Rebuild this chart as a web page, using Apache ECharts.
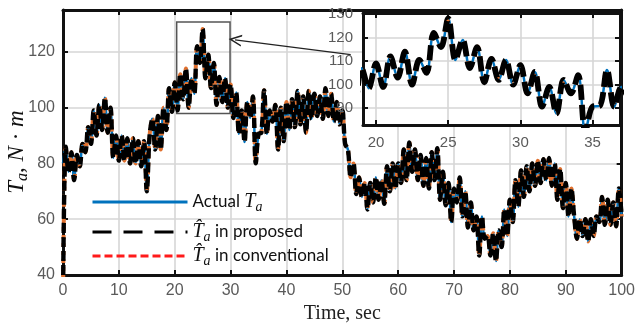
<!DOCTYPE html>
<html><head><meta charset="utf-8">
<script src="https://cdn.jsdelivr.net/npm/echarts@6/dist/echarts.min.js"></script>
<style>html,body{margin:0;padding:0;background:#fff}#c{width:638px;height:329px}</style>
</head><body><div id="c"></div>
<script>
const sampleStep = 0.5;
const actualTa = [
  80,86,77,84,74,83,79,87,84,93,87,99,90,101,92,103.5,91,100,82,90,
  81,90,81,89,80,89,80,88,79,88,70,90,96,85,97,85,100,92,107,98.5,
  109,99,112,103,114,100,110.5,105,122,116,128.2,110.5,119,107,116,101,111,102,110.5,100,
  108.3,96.3,105.4,90.6,99,87.7,102,96.3,104,80,90.6,91,106.2,90.6,99,95,101,85,100,88,
  102,92,103,93,106,94,104,91,106,96,105,97,104,96,107,97,105,95,102,94,
  99,87,85,75,80,69,75,68,73,63.5,73,66,75,67,74,65.5,79,70,80,71,
  80,73,85,74,87.5,77,85,74,83,72,82,71,84,74,85.5,67,77,65,73,59,
  71,66,75,61,70,57,66,56,61,47,61,53,54,47,55,45,56,50,63.5,54,
  67,59,74,64.5,77.5,68,79,70,80,72,81,73,81.5,74,82,72,80,67,78,64,
  73,61,71,61,53,60,54,60,52,60,54,61,59,68,58,67,58,66,57.5,71,61
];
const estimatorStart = 30;          // estimators start off-scale at t = 0
const mainX = [0, 100], mainY = [40, 135];
const insetX = [19.1, 36.9], insetY = [82.8, 130.5];
const zoomBoxX = [20.35, 29.9], zoomBoxY = [97.9, 130.7];
const arrowFrom = [51.5, 119], arrowTo = [30.8, 124.3];

const actualPairs = actualTa.map((v, i) => [i * sampleStep, v]);
const estPairs = actualTa.map((v, i) => [i * sampleStep, i === 0 ? estimatorStart : v]);

const C_BLUE = '#0072BD', C_ORANGE = '#E0702E', C_BLACK = '#000';
const labelColor = '#5a5a5a';
const serif = 'Liberation Serif';

function boxAxis(grid, pos, range, opts) {
  const isMain = grid === 0;
  return Object.assign({
    gridIndex: grid, type: 'value', position: pos,
    min: range[0], max: range[1],
    z: isMain ? 0 : 11,
    axisLine: { show: true, onZero: false, lineStyle: { color: '#111', width: 3 } },
    axisTick: { show: true, inside: true, length: 5, lineStyle: { color: '#111', width: 2 } },
    axisLabel: { show: false },
    splitLine: { show: false }
  }, opts);
}

const labelStyle = (fs, showMin, showMax) => ({ show: true, color: labelColor, fontFamily: 'Liberation Sans', fontSize: fs, showMinLabel: showMin, showMaxLabel: showMax });
const grid = { show: true, lineStyle: { color: '#d6d6d6', width: 1.6 } };

const richLegend = {
  it: { fontFamily: serif, fontStyle: 'italic', fontSize: 20, lineHeight: 24, color: '#111' },
  sub: { fontFamily: serif, fontStyle: 'italic', fontSize: 14, lineHeight: 10, verticalAlign: 'bottom', color: '#111' }
};
const legendText = { fontFamily: 'Lato', fontSize: 17, color: '#111', rich: richLegend };
const noMarker = { color: 'rgba(0,0,0,0)', borderColor: 'rgba(0,0,0,0)', borderWidth: 0 };

function lineSeries(name, data, xi, yi, color, width, dash, z, extra) {
  return Object.assign({
    name, type: 'line', data, xAxisIndex: xi, yAxisIndex: yi,
    symbol: 'none', smooth: 0.35, clip: true, z, silent: true,
    lineStyle: { color, width, type: dash },
    itemStyle: { color }
  }, extra || {});
}

const option = {
  animation: false,
  backgroundColor: '#fff',
  grid: [
    { left: 63, top: 10, right: 9, bottom: 52.5, show: false },
    { left: 363, top: 13, width: 257, height: 112, show: true, backgroundColor: '#fff', borderWidth: 0, z: 10 }
  ],
  xAxis: [
    boxAxis(0, 'bottom', mainX, { interval: 10, axisLabel: labelStyle(16, true, true), splitLine: grid,
      name: 'Time, sec', nameLocation: 'middle', nameGap: 29,
      nameTextStyle: { fontFamily: serif, fontSize: 20, color: '#222' } }),
    boxAxis(0, 'top', mainX, { interval: 10 }),
    boxAxis(1, 'bottom', insetX, { splitNumber: 4, axisLabel: Object.assign(labelStyle(15, false, false), { margin: 10 }), splitLine: grid }),
    boxAxis(1, 'top', insetX, { splitNumber: 4 })
  ],
  yAxis: [
    boxAxis(0, 'left', mainY, { interval: 20, axisLabel: labelStyle(16, true, false), splitLine: grid }),
    boxAxis(0, 'right', mainY, { interval: 20 }),
    boxAxis(1, 'left', insetY, { splitNumber: 5, axisLabel: Object.assign(labelStyle(15, false, false), { margin: 10 }), splitLine: grid }),
    boxAxis(1, 'right', insetY, { splitNumber: 5 })
  ],
  legend: [
    { left: 91, top: 192, padding: 0, itemWidth: 95, itemHeight: 14, itemGap: 0, selectedMode: false,
      data: [{ name: 'actual', itemStyle: noMarker, lineStyle: { color: C_BLUE, width: 3 } }],
      formatter: () => 'Actual {it|T}{sub|a}', textStyle: legendText },
    { left: 91, top: 222, padding: 0, itemWidth: 95, itemHeight: 14, itemGap: 0, selectedMode: false,
      data: [{ name: 'proposed', itemStyle: noMarker, lineStyle: { color: '#000', width: 3, type: [19, 12] } }],
      formatter: () => '{it|T\u0302}{sub|a} in proposed', textStyle: legendText },
    { left: 91, top: 246, padding: 0, itemWidth: 95, itemHeight: 14, itemGap: 0, selectedMode: false,
      data: [{ name: 'conventional', itemStyle: noMarker, lineStyle: { color: '#ff1a1a', width: 3, type: [8, 4] } }],
      formatter: () => '{it|T\u0302}{sub|a} in conventional', textStyle: legendText }
  ],
  graphic: [{
    type: 'text', x: 17, y: 152, rotation: Math.PI / 2, z: 20,
    style: {
      text: '{it|T}{sub|a}{n|, }{it|N}{n| · }{it|m}',
      align: 'center', verticalAlign: 'middle',
      rich: {
        it: { fontFamily: serif, fontStyle: 'italic', fontSize: 23, lineHeight: 28, fill: '#111' },
        sub: { fontFamily: serif, fontStyle: 'italic', fontSize: 16, lineHeight: 11, verticalAlign: 'bottom', fill: '#111' },
        n: { fontFamily: serif, fontSize: 23, lineHeight: 28, fill: '#111' }
      }
    }
  }],
  series: [
    lineSeries('actual', actualPairs, 0, 0, C_BLUE, 2.5, 'solid', 1, {
      markArea: { silent: true, label: { show: false },
        itemStyle: { color: 'rgba(0,0,0,0)', borderColor: '#555', borderWidth: 1.5 },
        data: [[{ coord: [zoomBoxX[0], zoomBoxY[1]] }, { coord: [zoomBoxX[1], zoomBoxY[0]] }]] },
      markLine: { silent: true, symbol: ['none', 'path://M5,0 L10,11 L8.6,11 L5,3 L1.4,11 L0,11 Z'], symbolSize: [12, 13],
        label: { show: false }, lineStyle: { color: '#222', width: 1.2, type: 'solid' },
        data: [[{ coord: arrowFrom }, { coord: arrowTo }]] }
    }),
    lineSeries('conventional', estPairs, 0, 0, C_ORANGE, 4, [4, 4], 2),
    lineSeries('proposed', estPairs, 0, 0, C_BLACK, 4.4, [10, 4], 3),
    lineSeries('actual', actualPairs, 2, 2, C_BLUE, 2.5, 'solid', 12),
    lineSeries('conventional', estPairs, 2, 2, C_ORANGE, 5, [3, 7], 13),
    lineSeries('proposed', estPairs, 2, 2, C_BLACK, 5.8, [15, 5], 14)
  ]
};
const chart = echarts.init(document.getElementById('c'), null, { renderer: 'canvas' });
chart.setOption(option);
</script></body></html>
